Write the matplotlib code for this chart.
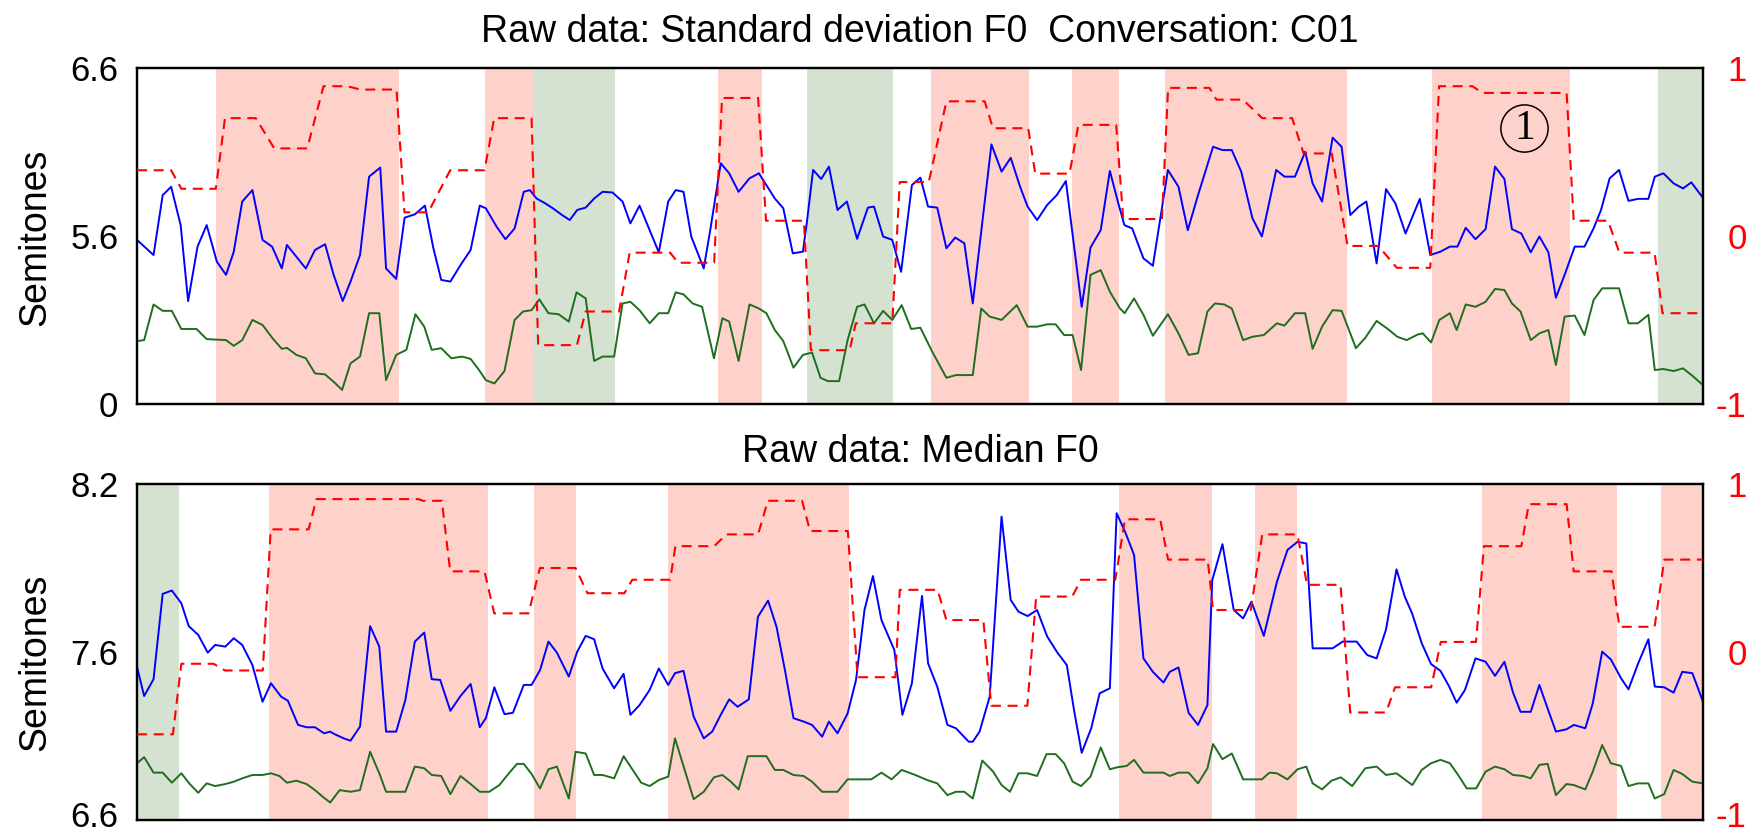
import matplotlib
matplotlib.use("Agg")
import matplotlib.pyplot as plt
from matplotlib.transforms import ScaledTranslation

plt.rcParams['font.family'] = ['Liberation Sans', 'DejaVu Sans']

# ---------------- data (x = time index, left values = normalised 0..1, right = -1..1) ----------
TOP_TITLE = "Raw data: Standard deviation F0  Conversation: C01"
BOT_TITLE = "Raw data: Median F0"
TOP_LEFT_TICKS = ["0", "5.6", "6.6"]
BOT_LEFT_TICKS = ["6.6", "7.6", "8.2"]
RIGHT_TICKS = ["-1", "0", "1"]
YLABEL = "Semitones"

top_span_start = [8.95, 39.6, 45.0, 66.0, 76.2, 90.2, 106.3, 116.9, 147.2, 172.9]
top_span_end = [29.8, 45.0, 54.3, 71.0, 85.9, 101.4, 111.6, 137.5, 162.9, 178.0]
top_span_kind = ["p", "p", "g", "p", "g", "p", "p", "p", "p", "g"]

bot_span_start = [0.0, 15.04, 45.1, 60.3, 111.6, 127.1, 152.9, 173.2]
bot_span_end = [4.73, 39.85, 49.85, 80.9, 122.2, 131.9, 168.25, 178.0]
bot_span_kind = ["g", "p", "p", "p", "p", "p", "p", "p"]

top_blue_t = [0, 1.88, 2.92, 3.88, 4.96, 5.81, 6.88, 7.92, 9.08, 10.12,
              11.0, 11.96, 13.12, 14.27, 15.35, 16.46, 17.04, 18.12, 19.19, 20.23,
              21.38, 22.35, 23.38, 24.27, 25.35, 26.38, 27.65, 28.31, 29.46, 30.42,
              31.58, 32.73, 33.69, 34.58, 35.62, 36.77, 37.92, 38.96, 39.65, 40.88,
              41.88, 42.92, 43.96, 44.65, 45.42, 46.38, 47.27, 48.31, 49.19, 50.04,
              51.0, 51.96, 52.92, 54.04, 55.19, 56.08, 57.12, 58.27, 59.31, 60.38,
              61.23, 62.12, 63.0, 64.42, 65.19, 66.35, 67.31, 68.38, 69.62, 70.69,
              71.54, 72.5, 73.46, 74.54, 75.69, 76.15, 76.85, 77.77, 78.65, 79.62,
              80.69, 81.85, 83.08, 83.77, 84.81, 85.85, 86.85, 88.08, 89.04, 89.92,
              90.96, 92.0, 93.0, 94.04, 95.0, 97.12, 98.27, 99.31, 100.38, 101.23,
              102.31, 103.46, 104.54, 105.58, 107.38, 108.38, 109.54, 110.58, 111.54, 112.23,
              113.12, 114.4, 115.47, 117.18, 118.38, 119.44, 120.6, 122.31, 123.38, 124.44,
              125.51, 126.79, 127.86, 129.49, 130.43, 131.62, 132.78, 133.63, 134.7, 135.9,
              136.92, 137.91, 138.89, 139.74, 140.9, 141.97, 143.03, 144.19, 145.81, 147.0,
              148.16, 149.23, 150.09, 151.03, 152.14, 153.29, 154.36, 155.43, 156.28, 157.35,
              158.42, 159.4, 160.43, 161.28, 162.27, 163.42, 164.53, 165.56, 166.41, 167.39,
              168.46, 169.53, 170.6, 171.79, 172.52, 173.5, 174.66, 175.73, 176.67, 178.0]
top_blue_v = [0.488, 0.443, 0.621, 0.646, 0.532, 0.306, 0.468, 0.532, 0.423, 0.384,
              0.453, 0.602, 0.636, 0.488, 0.468, 0.403, 0.473, 0.438, 0.403, 0.458,
              0.475, 0.384, 0.306, 0.364, 0.443, 0.676, 0.703, 0.403, 0.372, 0.554,
              0.564, 0.590, 0.463, 0.369, 0.364, 0.413, 0.458, 0.590, 0.582, 0.527,
              0.490, 0.522, 0.631, 0.636, 0.611, 0.597, 0.582, 0.562, 0.547, 0.577,
              0.584, 0.611, 0.631, 0.629, 0.602, 0.537, 0.590, 0.517, 0.451, 0.602,
              0.636, 0.631, 0.498, 0.403, 0.522, 0.716, 0.686, 0.631, 0.671, 0.686,
              0.651, 0.611, 0.582, 0.448, 0.453, 0.542, 0.696, 0.669, 0.706, 0.577,
              0.602, 0.491, 0.584, 0.587, 0.498, 0.488, 0.393, 0.651, 0.673, 0.587,
              0.584, 0.463, 0.495, 0.478, 0.299, 0.772, 0.691, 0.732, 0.646, 0.587,
              0.547, 0.592, 0.621, 0.663, 0.289, 0.465, 0.517, 0.693, 0.597, 0.532,
              0.522, 0.433, 0.411, 0.696, 0.646, 0.517, 0.621, 0.765, 0.755, 0.755,
              0.691, 0.552, 0.498, 0.696, 0.676, 0.676, 0.750, 0.656, 0.602, 0.792,
              0.765, 0.562, 0.587, 0.602, 0.418, 0.639, 0.597, 0.507, 0.610, 0.443,
              0.453, 0.468, 0.468, 0.524, 0.490, 0.520, 0.706, 0.669, 0.520, 0.507,
              0.451, 0.498, 0.451, 0.316, 0.384, 0.468, 0.468, 0.522, 0.577, 0.671,
              0.696, 0.604, 0.610, 0.610, 0.676, 0.686, 0.656, 0.641, 0.659, 0.613]

top_green_t = [0, 0.81, 1.88, 2.92, 3.96, 5.04, 6.77, 7.92, 10.12, 11.0,
               11.96, 13.12, 14.27, 15.42, 16.46, 17.04, 18.12, 19.19, 20.23, 21.38,
               22.35, 23.31, 24.27, 25.35, 26.38, 27.54, 28.31, 29.46, 30.62, 31.65,
               32.65, 33.5, 34.58, 35.73, 36.96, 37.92, 38.88, 39.65, 40.62, 41.77,
               42.92, 43.88, 44.85, 45.73, 46.77, 47.92, 49.08, 49.96, 51.0, 51.96,
               52.92, 54.23, 55.19, 56.08, 57.12, 58.27, 59.31, 60.38, 61.23, 62.12,
               63.15, 64.23, 65.58, 66.54, 67.31, 68.38, 69.62, 70.69, 71.54, 72.5,
               73.46, 74.62, 75.69, 76.73, 77.69, 78.54, 79.81, 80.77, 81.85, 82.69,
               83.77, 84.81, 85.85, 86.92, 88.0, 89.04, 90.38, 92.0, 93.08, 95.0,
               95.96, 96.92, 98.27, 100.0, 101.23, 102.31, 103.46, 104.42, 105.38, 106.35,
               107.31, 108.38, 109.54, 110.58, 111.73, 112.26, 113.33, 114.4, 115.47, 117.18,
               118.38, 119.53, 120.6, 121.67, 122.52, 123.59, 124.44, 125.73, 126.79, 128.08,
               129.57, 130.43, 131.62, 132.78, 133.63, 134.7, 135.9, 136.92, 138.55, 139.62,
               140.9, 142.18, 143.25, 144.32, 145.6, 146.15, 147.09, 148.03, 149.23, 150.0,
               151.03, 152.14, 153.29, 154.36, 155.43, 156.28, 157.26, 158.42, 159.4, 160.43,
               161.28, 162.27, 163.42, 164.53, 165.56, 166.54, 168.46, 169.53, 170.6, 171.79,
               172.52, 173.5, 174.66, 175.73, 176.79, 178.0]
top_green_v = [0.187, 0.190, 0.296, 0.277, 0.277, 0.223, 0.223, 0.193, 0.190, 0.173,
               0.190, 0.250, 0.235, 0.195, 0.164, 0.167, 0.146, 0.136, 0.091, 0.088,
               0.066, 0.042, 0.121, 0.141, 0.270, 0.270, 0.071, 0.146, 0.161, 0.267,
               0.230, 0.161, 0.166, 0.136, 0.141, 0.134, 0.101, 0.071, 0.061, 0.098,
               0.250, 0.275, 0.279, 0.311, 0.270, 0.267, 0.245, 0.332, 0.314, 0.128,
               0.141, 0.141, 0.299, 0.304, 0.279, 0.240, 0.270, 0.270, 0.332, 0.326,
               0.299, 0.289, 0.136, 0.255, 0.245, 0.128, 0.296, 0.284, 0.270, 0.220,
               0.187, 0.108, 0.146, 0.153, 0.078, 0.068, 0.068, 0.190, 0.289, 0.296,
               0.240, 0.277, 0.250, 0.294, 0.223, 0.227, 0.156, 0.078, 0.086, 0.086,
               0.284, 0.260, 0.250, 0.294, 0.230, 0.230, 0.237, 0.237, 0.205, 0.205,
               0.101, 0.384, 0.398, 0.334, 0.284, 0.270, 0.314, 0.265, 0.203, 0.267,
               0.210, 0.146, 0.151, 0.275, 0.299, 0.296, 0.284, 0.190, 0.200, 0.205,
               0.240, 0.233, 0.270, 0.270, 0.164, 0.230, 0.279, 0.277, 0.166, 0.197,
               0.247, 0.223, 0.200, 0.190, 0.207, 0.210, 0.183, 0.250, 0.270, 0.220,
               0.296, 0.289, 0.304, 0.342, 0.339, 0.299, 0.275, 0.190, 0.210, 0.220,
               0.116, 0.260, 0.263, 0.205, 0.309, 0.344, 0.344, 0.240, 0.240, 0.265,
               0.101, 0.104, 0.098, 0.106, 0.084, 0.056]

top_red_t = [0, 3.88, 5.04, 8.96, 10.0, 13.5, 15.6, 19.35, 21.2, 23.9,
             25.4, 29.5, 30.4, 33.1, 35.6, 39.5, 40.6, 44.85, 45.6, 50.0,
             51.0, 54.8, 56.0, 60.6, 61.5, 65.6, 66.5, 70.6, 71.5, 75.8,
             76.6, 81.0, 81.7, 85.85, 86.7, 90.0, 92.0, 96.35, 97.3, 101.3,
             102.1, 106.0, 107.0, 111.3, 112.1, 116.5, 117.2, 121.9, 122.7, 125.7,
             127.9, 131.3, 132.6, 135.8, 137.6, 141.1, 143.2, 147.0, 148.0, 151.8,
             152.9, 162.5, 163.3, 167.2, 168.5, 172.5, 173.4, 178.0]
top_red_v = [0.39, 0.39, 0.28, 0.28, 0.70, 0.70, 0.52, 0.52, 0.89, 0.89,
             0.87, 0.87, 0.14, 0.14, 0.39, 0.39, 0.70, 0.70, -0.65, -0.65,
             -0.45, -0.45, -0.10, -0.10, -0.16, -0.16, 0.82, 0.82, 0.09, 0.09,
             -0.68, -0.68, -0.52, -0.52, 0.32, 0.32, 0.80, 0.80, 0.64, 0.64,
             0.37, 0.37, 0.66, 0.66, 0.10, 0.10, 0.88, 0.88, 0.81, 0.81,
             0.70, 0.70, 0.49, 0.49, -0.06, -0.06, -0.19, -0.19, 0.89, 0.89,
             0.85, 0.85, 0.09, 0.09, -0.10, -0.10, -0.46, -0.46]

bot_blue_t = [0, 0.81, 1.88, 2.92, 3.96, 5.04, 5.88, 6.96, 8.04, 8.88,
              10.04, 11.0, 11.96, 13.12, 14.27, 15.23, 16.38, 17.15, 18.31, 19.27,
              20.23, 21.27, 21.96, 22.42, 23.5, 24.27, 25.35, 26.5, 27.54, 28.31,
              29.46, 30.5, 31.58, 32.65, 33.5, 34.46, 35.62, 36.77, 37.92, 38.96,
              39.65, 40.62, 41.77, 42.73, 43.96, 44.85, 45.81, 46.77, 47.73, 49.08,
              50.04, 51.0, 51.96, 52.92, 54.23, 55.31, 56.08, 57.12, 58.27, 59.31,
              60.38, 61.15, 62.12, 63.27, 64.42, 65.38, 66.35, 67.31, 68.27, 69.54,
              70.58, 71.73, 72.69, 73.65, 74.62, 75.77, 76.73, 77.88, 78.65, 79.62,
              80.77, 81.73, 82.69, 83.65, 84.62, 86.08, 87.0, 88.08, 89.23, 89.92,
              90.96, 92.12, 93.08, 94.54, 95.0, 95.77, 96.92, 98.27, 99.31, 100.19,
              101.23, 102.31, 103.46, 104.62, 105.69, 106.54, 107.38, 108.46, 109.42, 110.58,
              111.35, 112.31, 113.33, 114.4, 115.47, 116.67, 117.39, 118.38, 119.53, 120.6,
              121.67, 122.22, 123.38, 124.66, 125.73, 126.67, 128.08, 129.57, 130.77, 131.92,
              132.91, 133.63, 135.9, 137.05, 138.63, 139.83, 140.9, 141.97, 143.16, 144.1,
              144.96, 146.03, 147.09, 148.16, 149.15, 150.0, 150.94, 152.14, 153.29, 154.36,
              155.43, 156.41, 157.26, 158.42, 159.4, 160.34, 161.28, 162.48, 163.33, 164.62,
              165.47, 166.54, 167.52, 168.68, 169.53, 170.6, 171.79, 172.52, 173.59, 174.66,
              175.64, 176.79, 178.0]
bot_blue_v = [0.456, 0.369, 0.419, 0.673, 0.683, 0.645, 0.577, 0.551, 0.498, 0.521,
              0.516, 0.541, 0.521, 0.461, 0.352, 0.407, 0.367, 0.355, 0.283, 0.276,
              0.276, 0.258, 0.263, 0.256, 0.243, 0.236, 0.278, 0.577, 0.516, 0.263,
              0.263, 0.357, 0.531, 0.558, 0.419, 0.417, 0.325, 0.369, 0.405, 0.276,
              0.303, 0.395, 0.315, 0.319, 0.402, 0.402, 0.446, 0.531, 0.498, 0.427,
              0.501, 0.548, 0.538, 0.451, 0.392, 0.435, 0.313, 0.342, 0.387, 0.451,
              0.402, 0.437, 0.444, 0.308, 0.243, 0.263, 0.313, 0.359, 0.337, 0.359,
              0.605, 0.653, 0.575, 0.446, 0.303, 0.293, 0.283, 0.248, 0.293, 0.258,
              0.317, 0.417, 0.625, 0.726, 0.595, 0.506, 0.313, 0.407, 0.667, 0.466,
              0.397, 0.283, 0.273, 0.233, 0.233, 0.263, 0.367, 0.903, 0.655, 0.620,
              0.607, 0.625, 0.546, 0.498, 0.461, 0.322, 0.200, 0.273, 0.377, 0.392,
              0.913, 0.858, 0.789, 0.481, 0.441, 0.409, 0.441, 0.454, 0.319, 0.283,
              0.342, 0.714, 0.821, 0.625, 0.600, 0.650, 0.548, 0.709, 0.804, 0.828,
              0.823, 0.511, 0.511, 0.531, 0.531, 0.491, 0.481, 0.567, 0.746, 0.665,
              0.613, 0.526, 0.464, 0.444, 0.397, 0.349, 0.387, 0.481, 0.471, 0.429,
              0.471, 0.379, 0.322, 0.322, 0.402, 0.332, 0.263, 0.270, 0.283, 0.273,
              0.347, 0.501, 0.478, 0.422, 0.389, 0.464, 0.538, 0.397, 0.395, 0.379,
              0.441, 0.437, 0.352]

bot_green_t = [0, 0.81, 1.88, 2.92, 3.96, 5.04, 6.0, 6.96, 7.92, 8.88,
               10.04, 11.0, 11.96, 13.12, 14.27, 15.23, 16.19, 17.04, 18.12, 19.27,
               20.23, 21.12, 21.96, 23.04, 24.27, 25.35, 26.5, 27.54, 28.31, 30.5,
               31.58, 32.65, 33.5, 34.58, 35.62, 36.77, 37.92, 38.96, 40.04, 41.19,
               42.27, 43.19, 43.96, 44.85, 45.81, 46.77, 47.73, 49.08, 49.85, 51.0,
               51.96, 52.92, 54.23, 55.31, 56.35, 57.31, 58.27, 59.31, 60.38, 61.15,
               63.27, 64.42, 65.58, 66.54, 67.5, 68.38, 69.42, 71.54, 72.5, 73.46,
               74.62, 75.77, 76.73, 77.88, 79.62, 80.77, 83.46, 84.62, 85.77, 86.92,
               88.46, 89.81, 90.96, 92.12, 93.08, 94.04, 95.0, 96.08, 97.31, 98.27,
               99.23, 100.19, 101.23, 102.31, 103.38, 104.42, 105.38, 106.35, 107.31, 108.38,
               109.54, 110.58, 111.46, 112.5, 113.33, 114.4, 116.67, 117.39, 118.38, 119.53,
               120.6, 121.67, 122.31, 123.38, 124.44, 125.73, 127.86, 128.72, 129.57, 130.77,
               131.92, 132.91, 133.63, 134.7, 135.77, 136.84, 138.12, 139.62, 140.9, 141.97,
               143.16, 144.96, 146.03, 147.09, 148.16, 149.23, 150.09, 151.15, 152.22, 153.29,
               154.36, 155.43, 156.41, 157.56, 158.42, 159.4, 160.34, 161.28, 162.48, 163.33,
               164.62, 165.47, 166.54, 167.52, 168.68, 169.53, 170.6, 171.79, 172.52, 173.59,
               174.66, 175.64, 176.79, 178.0]
bot_green_v = [0.169, 0.187, 0.141, 0.141, 0.111, 0.139, 0.107, 0.081, 0.109, 0.101,
               0.107, 0.114, 0.124, 0.134, 0.134, 0.139, 0.131, 0.111, 0.117, 0.107,
               0.089, 0.069, 0.052, 0.089, 0.084, 0.089, 0.203, 0.139, 0.084, 0.084,
               0.159, 0.154, 0.134, 0.131, 0.077, 0.131, 0.107, 0.084, 0.084, 0.104,
               0.139, 0.167, 0.167, 0.137, 0.094, 0.151, 0.159, 0.064, 0.203, 0.198,
               0.134, 0.134, 0.124, 0.190, 0.149, 0.111, 0.101, 0.119, 0.129, 0.243,
               0.062, 0.084, 0.127, 0.134, 0.114, 0.091, 0.190, 0.190, 0.149, 0.149,
               0.134, 0.131, 0.114, 0.084, 0.084, 0.121, 0.121, 0.141, 0.121, 0.149,
               0.134, 0.119, 0.109, 0.074, 0.084, 0.084, 0.064, 0.177, 0.144, 0.104,
               0.084, 0.139, 0.139, 0.131, 0.196, 0.196, 0.169, 0.114, 0.101, 0.129,
               0.216, 0.151, 0.157, 0.161, 0.179, 0.141, 0.141, 0.131, 0.141, 0.141,
               0.109, 0.154, 0.226, 0.181, 0.198, 0.121, 0.121, 0.141, 0.139, 0.121,
               0.151, 0.159, 0.109, 0.091, 0.117, 0.127, 0.101, 0.154, 0.159, 0.134,
               0.139, 0.104, 0.149, 0.169, 0.179, 0.169, 0.137, 0.094, 0.094, 0.144,
               0.159, 0.151, 0.134, 0.131, 0.124, 0.164, 0.167, 0.074, 0.107, 0.104,
               0.091, 0.144, 0.223, 0.169, 0.161, 0.101, 0.109, 0.109, 0.064, 0.077,
               0.149, 0.137, 0.114, 0.109]

bot_red_t = [0, 4.08, 5.04, 8.7, 10.0, 14.3, 15.2, 19.5, 20.4, 32.0,
             32.5, 34.65, 35.6, 39.5, 40.6, 44.5, 45.8, 49.85, 51.2, 55.4,
             56.3, 60.6, 61.2, 65.6, 67.0, 70.6, 71.7, 75.6, 76.5, 80.8,
             81.9, 86.2, 86.7, 91.0, 92.0, 96.2, 97.1, 101.2, 102.2, 106.3,
             107.3, 111.2, 112.3, 116.3, 117.2, 121.7, 122.3, 126.6, 127.9, 131.9,
             133.0, 136.8, 137.9, 141.97, 143.0, 147.1, 148.2, 152.2, 153.1, 157.35,
             158.2, 162.5, 163.3, 167.6, 168.5, 172.5, 173.6, 178.0]
bot_red_v = [-0.49, -0.49, -0.07, -0.07, -0.11, -0.11, 0.73, 0.73, 0.91, 0.91,
             0.90, 0.90, 0.48, 0.48, 0.23, 0.23, 0.50, 0.50, 0.35, 0.35,
             0.43, 0.43, 0.63, 0.63, 0.70, 0.70, 0.90, 0.90, 0.72, 0.72,
             -0.15, -0.15, 0.37, 0.37, 0.19, 0.19, -0.32, -0.32, 0.33, 0.33,
             0.43, 0.43, 0.79, 0.79, 0.55, 0.55, 0.25, 0.25, 0.70, 0.70,
             0.40, 0.40, -0.36, -0.36, -0.21, -0.21, 0.06, 0.06, 0.63, 0.63,
             0.88, 0.88, 0.48, 0.48, 0.15, 0.15, 0.55, 0.55]

# ---------------- style ----------------
W, H = 1748, 834
PINK = "#ffd1cb"
GSPAN = "#d5e1d1"
BLUE = "#0000ff"
GREEN = "#1f6e1f"
RED = "#ff0000"
FS_TICK = 25
FS_TEXT = 27


def px_rect(l, t, r, b):
    return [l / W, 1 - b / H, (r - l) / W, (b - t) / H]


def pairs(t, v):
    n = min(len(t), len(v))
    return t[:n], v[:n]


def panel(ax, title, title_pad, left_labels, ylabel_y,
          s0, s1, sk, bt, bv, gt, gv, rt, rv):
    for a, b, k in zip(s0, s1, sk):
        ax.axvspan(a, b, color=PINK if k == "p" else GSPAN, lw=0, zorder=0)
    x, y = pairs(bt, bv)
    ax.plot(x, y, color=BLUE, lw=1.4, zorder=3)
    x, y = pairs(gt, gv)
    ax.plot(x, y, color=GREEN, lw=1.4, zorder=3)
    ax.set_xlim(0, 178)
    ax.set_ylim(0, 1)
    ax.set_xticks([])
    ax.set_yticks([0, 0.5, 1])
    ax.set_yticklabels(left_labels, fontsize=FS_TICK)
    ax.tick_params(axis="y", length=0, pad=13.5)
    ax.set_title(title, fontsize=FS_TEXT, pad=title_pad)
    ax.set_ylabel(YLABEL, fontsize=FS_TEXT)
    ax.yaxis.set_label_coords(-0.0536, ylabel_y)
    for sp in ax.spines.values():
        sp.set_linewidth(1.6)

    ax2 = ax.twinx()
    x, y = pairs(rt, rv)
    ax2.plot(x, y, color=RED, lw=1.5, dashes=(4.8, 3.2), zorder=4)
    ax2.set_xlim(0, 178)
    ax2.set_ylim(-1, 1)
    ax2.set_yticks([-1, 0, 1])
    ax2.set_yticklabels(RIGHT_TICKS, fontsize=FS_TICK, color=RED, ha="right")
    ax2.tick_params(axis="y", length=0, pad=31.5)
    for sp in ax2.spines.values():
        sp.set_linewidth(1.6)
    return ax2


fig = plt.figure(figsize=(W / 100, H / 100), dpi=100)
ax_top = fig.add_axes(px_rect(137, 67.7, 1703, 404))
ax_bot = fig.add_axes(px_rect(137, 484, 1703, 820))

panel(ax_top, TOP_TITLE, 18.5, TOP_LEFT_TICKS, 0.497,
      top_span_start, top_span_end, top_span_kind,
      top_blue_t, top_blue_v, top_green_t, top_green_v, top_red_t, top_red_v)
ax_bot_r = panel(ax_bot, BOT_TITLE, 15.8, BOT_LEFT_TICKS, 0.47,
                 bot_span_start, bot_span_end, bot_span_kind,
                 bot_blue_t, bot_blue_v, bot_green_t, bot_green_v, bot_red_t, bot_red_v)

# keep the lowest tick labels of the bottom panel inside the canvas
lift = ScaledTranslation(0, 6 / 100, fig.dpi_scale_trans)
for lab in (ax_bot.get_yticklabels()[0], ax_bot_r.get_yticklabels()[0]):
    lab.set_transform(lab.get_transform() + lift)

# circled "1" annotation in the top panel
ax_top.plot([0.886], [0.822], "o", ms=34, mfc="none", mec="black", mew=1.1,
            transform=ax_top.transAxes, zorder=6, clip_on=False)
ax_top.text(0.886, 0.818, "1", transform=ax_top.transAxes, ha="center", va="center",
            fontsize=30, family=["Liberation Serif", "DejaVu Serif"], zorder=7)

fig.savefig("out.png", dpi=100)
